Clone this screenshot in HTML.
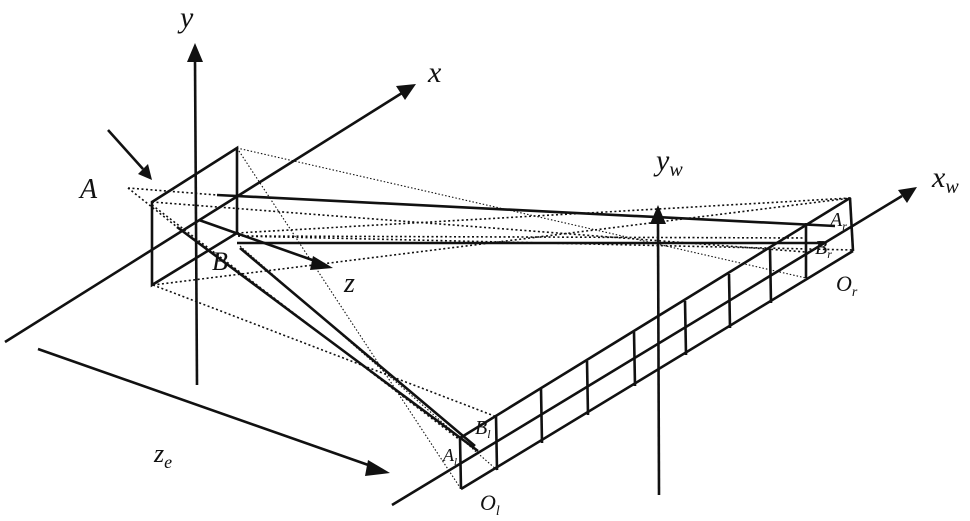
<!DOCTYPE html>
<html><head><meta charset="utf-8"><style>
html,body{margin:0;padding:0;background:#fff;}
svg{display:block}
text{font-family:"Liberation Serif",serif;font-style:italic;fill:#111}
</style></head><body>
<svg width="970" height="521" viewBox="0 0 970 521" xmlns="http://www.w3.org/2000/svg">
<defs>
<marker id="ah" viewBox="0 0 10 10" refX="9" refY="5" markerWidth="7" markerHeight="7" markerUnits="userSpaceOnUse" orient="auto">
</marker>
</defs>
<g stroke="#111" stroke-width="1.6" stroke-dasharray="2 2.5" fill="none">
<!-- dotted rays -->
<line x1="128" y1="188" x2="217" y2="195"/>
<line x1="128" y1="188" x2="177" y2="227"/>
<line x1="152" y1="202" x2="806" y2="252"/>
<line x1="237" y1="233" x2="851" y2="198"/>
<line x1="153" y1="285" x2="851" y2="198"/>
<line x1="153" y1="285" x2="497" y2="417"/>
<line x1="238" y1="236" x2="806" y2="238"/>
<line x1="238" y1="236" x2="853" y2="250"/>
<line x1="152" y1="205" x2="460" y2="440"/>
</g>
<g stroke="#111" stroke-width="1.1" stroke-dasharray="1.5 2" fill="none">
<line x1="237" y1="148" x2="806" y2="278"/>
<line x1="237" y1="148" x2="461" y2="489"/>
<line x1="240" y1="246" x2="497" y2="470"/>
</g>
<g stroke="#111" stroke-width="2.6" fill="none" stroke-linecap="butt">
<!-- image plane -->
<polygon points="152,202 237,148 237,233 152,285"/>
<!-- axes -->
<line x1="197" y1="385" x2="195" y2="60"/>
<line x1="5" y1="342" x2="402" y2="93"/>
<line x1="199" y1="220" x2="318" y2="262"/>
<line x1="38" y1="349" x2="374" y2="467"/>
<line x1="108" y1="130" x2="143" y2="169"/>
<line x1="392" y1="505" x2="902" y2="196"/>
<line x1="659" y1="495" x2="658" y2="222"/>
<!-- solid rays -->
<line x1="217" y1="195" x2="835" y2="226"/>
<line x1="237" y1="243" x2="825" y2="243"/>
<line x1="177" y1="227" x2="478" y2="451"/>
<line x1="240" y1="248" x2="475" y2="446"/>
<!-- strip -->
<line x1="460" y1="438" x2="850" y2="198"/>
<line x1="461" y1="489" x2="853" y2="251"/>
<line x1="460" y1="438" x2="461" y2="489"/>
<line x1="496" y1="416" x2="497" y2="470"/>
<line x1="541" y1="389" x2="542" y2="443"/>
<line x1="587" y1="361" x2="588" y2="415"/>
<line x1="634" y1="332" x2="635" y2="386"/>
<line x1="685" y1="301" x2="686" y2="355"/>
<line x1="729" y1="274" x2="730" y2="328"/>
<line x1="770" y1="249" x2="771" y2="303"/>
<line x1="806" y1="223" x2="806" y2="278"/>
<line x1="850" y1="198" x2="853" y2="251"/>
</g>
<g fill="#111" stroke="none">
<polygon points="195,43 187,62 203,62"/>
<polygon points="416,84 396,86 405,100"/>
<polygon points="333,268 313,256 310,270"/>
<polygon points="390,473 368,460 365,476"/>
<polygon points="152,180 138,174 148,164"/>
<polygon points="917,187 898,190 907,203"/>
<polygon points="658,205 650,224 666,224"/>
</g>
<text x="180" y="27" font-size="30">y</text>
<text x="428" y="82" font-size="30">x</text>
<text x="80" y="198" font-size="28">A</text>
<text x="212" y="270" font-size="26">B</text>
<text x="344" y="292" font-size="28">z</text>
<text x="154" y="462" font-size="26">z<tspan font-size="18" dy="6">e</tspan></text>
<text x="656" y="170" font-size="30">y<tspan font-size="20" dy="6">w</tspan></text>
<text x="932" y="187" font-size="30">x<tspan font-size="20" dy="6">w</tspan></text>
<text x="830" y="226" font-size="20">A<tspan font-size="12" dy="4">r</tspan></text>
<text x="815" y="254" font-size="20">B<tspan font-size="12" dy="4">r</tspan></text>
<text x="836" y="291" font-size="22">O<tspan font-size="14" dy="5">r</tspan></text>
<text x="475" y="434" font-size="20">B<tspan font-size="12" dy="4">l</tspan></text>
<text x="443" y="461" font-size="18">A<tspan font-size="11" dy="4">l</tspan></text>
<text x="480" y="510" font-size="22">O<tspan font-size="14" dy="5">l</tspan></text>
</svg>
</body></html>
